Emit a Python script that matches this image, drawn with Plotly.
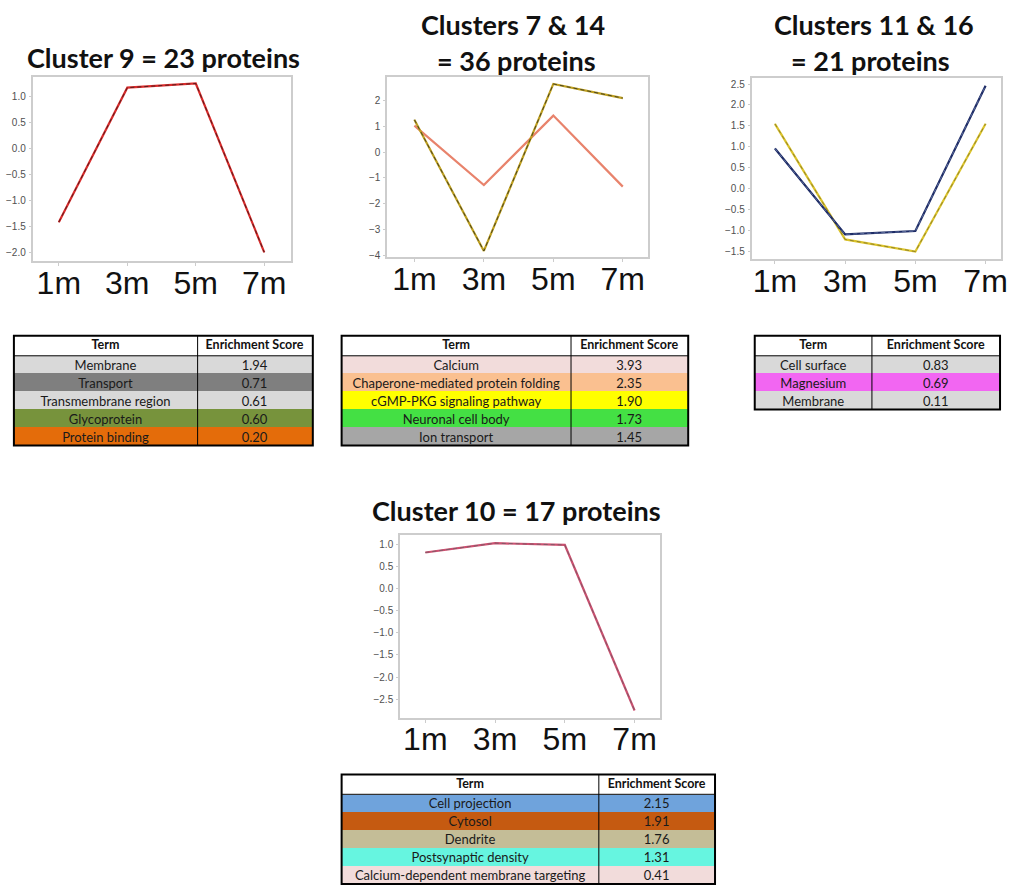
import plotly.graph_objects as go

W, H = 1012, 889

months = ["1m", "3m", "5m", "7m"]

# Mean z-scored abundance profiles for each cluster group
c9_profile = [-1.42, 1.17, 1.25, -2.00]
c7_14_gold = [1.26, -3.84, 2.65, 2.10]
c7_14_salmon = [1.03, -1.28, 1.42, -1.34]
c11_16_navy = [0.96, -1.09, -1.01, 2.46]
c11_16_yellow = [1.55, -1.21, -1.50, 1.55]
c10_profile = [0.81, 1.02, 0.98, -2.75]

# Functional enrichment (term, score, row colour)
c9_terms = ["Membrane", "Transport", "Transmembrane region", "Glycoprotein", "Protein binding"]
c9_scores = ["1.94", "0.71", "0.61", "0.60", "0.20"]
c9_colors = ["#d9d9d9", "#7f7f7f", "#d9d9d9", "#77933c", "#e46c0a"]

c7_14_terms = ["Calcium", "Chaperone-mediated protein folding", "cGMP-PKG signaling pathway",
               "Neuronal cell body", "Ion transport"]
c7_14_scores = ["3.93", "2.35", "1.90", "1.73", "1.45"]
c7_14_colors = ["#f2dcdb", "#fac090", "#ffff00", "#44e044", "#a6a6a6"]

c11_16_terms = ["Cell surface", "Magnesium", "Membrane"]
c11_16_scores = ["0.83", "0.69", "0.11"]
c11_16_colors = ["#d9d9d9", "#f266f2", "#d9d9d9"]

c10_terms = ["Cell projection", "Cytosol", "Dendrite", "Postsynaptic density",
             "Calcium-dependent membrane targeting"]
c10_scores = ["2.15", "1.91", "1.76", "1.31", "0.41"]
c10_colors = ["#6fa3dc", "#c55a11", "#c4bd97", "#66f5e0", "#f2dcdb"]

header_labels = ["Term", "Enrichment Score"]


def px_x(v):
    return v / W


def px_y(v):
    return min(1.0, max(0.0, 1 - v / H))


def nowrap(s):
    return s.replace(" ", "\u00a0")


fig = go.Figure()

# ---- line panels ----
panels = [
    dict(n="", box=(33, 77, 293, 262), yr=[-2.17, 1.38], xr=[-0.38, 3.39], dt=0.5, fmt=".1f",
         series=[(c9_profile, "#d92b2b", "#4a1c1c")]),
    dict(n="2", box=(390, 77, 653, 258), yr=[-4.08, 2.93], xr=[-0.39, 3.37], dt=1, fmt="d",
         series=[(c7_14_salmon, "#e8836c", None), (c7_14_gold, "#bfa020", "#3b3a22")]),
    dict(n="3", box=(757, 78, 1008, 260), yr=[-1.68, 2.65], xr=[-0.33, 3.22], dt=0.5, fmt=".1f",
         series=[(c11_16_yellow, "#dcc42c", "#8a7d2a"), (c11_16_navy, "#1e2c66", "#6070a0")]),
    dict(n="4", box=(403, 537, 665, 720), yr=[-2.91, 1.20], xr=[-0.36, 3.37], dt=0.5, fmt=".1f",
         series=[(c10_profile, "#cc5070", "#7a5a66")]),
]

layout_axes = {}
for p in panels:
    x0, y0, x1, y1 = p["box"]
    xa = "x" + p["n"]
    ya = "y" + p["n"]
    for vals, col, dash_col in p["series"]:
        fig.add_trace(go.Scatter(x=months, y=vals, mode="lines", xaxis=xa, yaxis=ya,
                                 line=dict(color=col, width=2.2), showlegend=False,
                                 hoverinfo="skip"))
        if dash_col:
            fig.add_trace(go.Scatter(x=months, y=vals, mode="lines", xaxis=xa, yaxis=ya,
                                     line=dict(color=dash_col, width=0.9, dash="4px,3px"),
                                     showlegend=False, hoverinfo="skip"))
    layout_axes["xaxis" + p["n"]] = dict(
        domain=[px_x(x0), px_x(x1)], anchor=ya, type="category", range=p["xr"],
        showline=True, mirror=True, linecolor="#cdcdcd", linewidth=2,
        showgrid=False, zeroline=False, ticks="outside", ticklen=3, tickcolor="#cccccc",
        tickfont=dict(family="Liberation Sans, Arial", size=32, color="#111111"),
        ticklabelstandoff=-11,
    )
    layout_axes["yaxis" + p["n"]] = dict(
        domain=[px_y(y1), px_y(y0)], anchor=xa, range=p["yr"], dtick=p["dt"],
        tickformat=p["fmt"], showline=True, mirror=True, linecolor="#cdcdcd", linewidth=2,
        showgrid=False, zeroline=False, ticks="outside", ticklen=2, tickcolor="#cccccc",
        tickfont=dict(family="Liberation Sans, Arial", size=10, color="#505050"),
        ticklabelstandoff=1,
    )

fig.update_layout(**layout_axes)

# ---- panel titles ----
title_font = dict(family="Lato, Noto Sans", size=27, color="#111111")
titles = [
    ("<b>Cluster 9 = 23 proteins</b>", 165, 58),
    ("<b>Clusters 7 & 14</b>", 517, 25),
    ("<b>= 36 proteins</b>", 520, 61),
    ("<b>Clusters 11 & 16</b>", 880, 25),
    ("<b>= 21 proteins</b>", 877, 61),
    ("<b>Cluster 10 = 17 proteins</b>", 520, 512),
]
for txt, cx, cy in titles:
    fig.add_annotation(text=txt, x=px_x(cx), y=px_y(cy), xref="paper", yref="paper",
                       xanchor="center", yanchor="middle", showarrow=False, font=title_font)

# ---- enrichment tables ----
# Each table is drawn as a colour layer plus a text layer lifted slightly,
# so the labels sit centred in the compact rows.
tables = [
    (c9_terms, c9_scores, c9_colors, (14, 337, 315), 199),
    (c7_14_terms, c7_14_scores, c7_14_colors, (344, 337, 693), 575),
    (c11_16_terms, c11_16_scores, c11_16_colors, (760, 337, 1007), 878),
    (c10_terms, c10_scores, c10_colors, (344, 777, 720), 603),
]
hh, rh, lift = 20, 18, 4
clear = "rgba(0,0,0,0)"
cell_font = dict(family="Lato, Noto Sans", size=13, color="#1a1a1a")
head_font = dict(family="Lato, Noto Sans", size=12.5, color="#111111", weight="bold")
for terms, scores, colors, (tx0, ty0, tx1), divx in tables:
    n = len(terms)
    ty1 = ty0 + hh + rh * n
    widths = [divx - tx0, tx1 - divx]
    # colour layer
    fig.add_trace(go.Table(
        domain=dict(x=[px_x(tx0), px_x(tx1)], y=[px_y(ty1 + 30), px_y(ty0)]),
        columnwidth=widths,
        header=dict(values=["", ""], fill_color="white", line=dict(color="white", width=1),
                    height=hh),
        cells=dict(values=[[""] * n, [""] * n], fill_color=[colors, colors],
                   line=dict(color=[colors, colors], width=1), height=rh),
    ))
    # text layer
    fig.add_trace(go.Table(
        domain=dict(x=[px_x(tx0), px_x(tx1)], y=[px_y(ty1 + 30), px_y(ty0 - lift)]),
        columnwidth=widths,
        header=dict(values=[nowrap(h) for h in header_labels],
                    fill_color=clear, line=dict(color=clear, width=0),
                    align="center", height=hh, font=head_font),
        cells=dict(values=[[nowrap(t) for t in terms], scores],
                   fill_color=clear, line=dict(color=clear, width=0),
                   align="center", height=rh, font=cell_font),
    ))
    # table rules
    fig.add_shape(type="rect", xref="paper", yref="paper",
                  x0=px_x(tx0), x1=px_x(tx1), y0=px_y(ty1), y1=px_y(ty0),
                  line=dict(color="black", width=2), layer="above")
    fig.add_shape(type="line", xref="paper", yref="paper",
                  x0=px_x(divx), x1=px_x(divx), y0=px_y(ty1), y1=px_y(ty0),
                  line=dict(color="black", width=1), layer="above")
    fig.add_shape(type="line", xref="paper", yref="paper",
                  x0=px_x(tx0), x1=px_x(tx1), y0=px_y(ty0 + hh), y1=px_y(ty0 + hh),
                  line=dict(color="black", width=1), layer="above")

fig.update_layout(width=W, height=H, margin=dict(l=0, r=0, t=0, b=0),
                  paper_bgcolor="white", plot_bgcolor="white", showlegend=False)

fig.write_html("out.html")
